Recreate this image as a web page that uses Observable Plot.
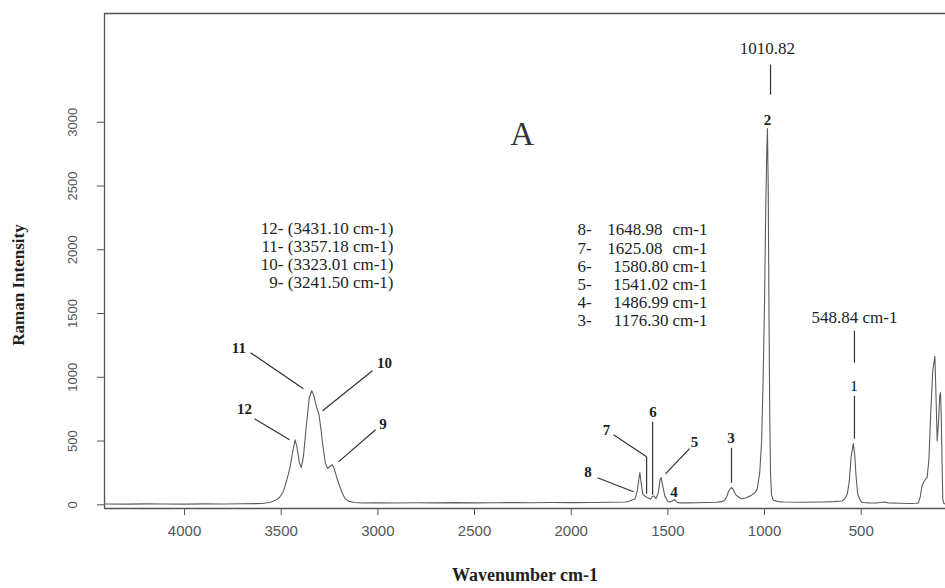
<!DOCTYPE html>
<html><head><meta charset="utf-8">
<script src="https://cdn.jsdelivr.net/npm/d3@7"></script>
<script src="https://cdn.jsdelivr.net/npm/@observablehq/plot@0.6"></script>
<style>body{margin:0;background:#fff} #chart svg{display:block}</style>
</head><body><div id="chart"></div>
<script>
// Raman spectrum (wavenumber cm-1, intensity)
const wavenumber = [4414,4300,4200,4100,4000,3900,3800,3700,3600,3560,3530,3510,3490,3470,3455,3440,3428,3418,3406,3396,3385,3370,3355,3342,3332,3318,3305,3295,3285,3272,3260,3248,3236,3225,3212,3200,3185,3170,3150,3120,3080,3000,2900,2800,2700,2600,2500,2400,2300,2200,2100,2000,1900,1800,1720,1700,1684,1670,1658,1650,1645,1638,1630,1620,1607,1590,1580,1573,1562,1550,1540,1535,1527,1516,1500,1490,1476,1466,1455,1440,1400,1350,1300,1250,1220,1205,1195,1185,1172,1162,1150,1130,1116,1095,1073,1050,1038,1025,1015,1007,1000,994,988,985,981,977,973,969,964,955,930,900,800,700,640,600,585,572,562,552,541,534,527,518,505,494,460,420,380,360,300,250,215,204,195,185,178,168,159,150,141,130,119,113,107,100,94,90,86,82,78,72,64];
const intensity  = [6,5,7,6,5,7,6,8,10,18,35,55,100,200,290,420,510,450,330,293,380,620,840,895,860,770,712,600,470,330,285,300,314,280,210,155,95,50,28,18,14,15,14,16,15,17,15,16,17,16,18,17,18,20,22,28,40,45,110,200,253,170,84,70,57,45,65,70,48,90,200,214,150,70,25,22,30,42,22,15,15,16,18,20,25,40,65,110,136,120,80,55,48,55,70,95,123,250,500,1000,1600,2300,2800,2950,2500,1500,700,250,80,35,25,22,20,22,25,30,45,84,180,380,480,400,230,84,35,18,15,14,22,15,12,10,12,15,60,150,175,200,215,350,700,1050,1165,850,500,650,850,880,700,350,40,10,5];

const xTicks = [4000,3500,3000,2500,2000,1500,1000,500];
const yTicks = [0,500,1000,1500,2000,2500,3000];

// numbered peak labels (position in data units)
const peakLabel = ["11","12","10","9","8","7","6","5","4","3","2"];
const peakLabelX = [3719,3690,2966,2973,1913,1817,1577,1362,1468,1173,985];
const peakLabelY = [1232,753,1110,636,259,589,730,494,102,522,3017];

// leader lines
const leadX1 = [3659,3638,3028,3012,1864,1781,1610,1579,1388,1171,969,535,535];
const leadY1 = [1193,675,1052,589,212,549,377,651,440,447,3453,1366,855];
const leadX2 = [3385,3457,3286,3204,1678,1610,1610,1579,1512,1171,969,535,535];
const leadY2 = [910,510,738,337,102,377,86,79,243,173,3217,1114,518];

// left list of peaks 12..9
const leftList = ["12- (3431.10 cm-1)","11- (3357.18 cm-1)","10- (3323.01 cm-1)","9- (3241.50 cm-1)"];
const leftListY = [2166,2025,1883,1742];
// right list of peaks 8..3
const rightPrefix = ["8-","7-","6-","5-","4-","3-"];
const rightValue = ["1648.98","1625.08","1580.80","1541.02","1486.99","1176.30"];
const rightValueX = [1528,1528,1497,1497,1497,1497];
const rightListY = [2158,2013,1868,1726,1585,1444];

const spectrum = wavenumber.map((w, k) => ({w, i: intensity[k]}));
const labels = peakLabel.map((t, k) => ({t, x: peakLabelX[k], y: peakLabelY[k]}));
const leaders = leadX1.map((x1, k) => ({x1, y1: leadY1[k], x2: leadX2[k], y2: leadY2[k]}));
const leftRows = leftList.map((t, k) => ({t, y: leftListY[k]}));
const rightRows = rightPrefix.map((p, k) => ({p, v: rightValue[k], vx: rightValueX[k], y: rightListY[k]}));

const xDomain = [4414, 64];
const yDomain = [-29, 3853];
const ink = "#1e1e1e";
const serif = "Liberation Serif";

const chart = Plot.plot({
  width: 945, height: 588,
  marginLeft: 104, marginRight: 0, marginTop: 13, marginBottom: 80,
  x: {domain: xDomain},
  y: {domain: yDomain},
  style: {background: "white", fontFamily: "Liberation Sans"},
  marks: [
    Plot.ruleY([yDomain[1]], {stroke: "#555", strokeWidth: 1.3}),
    Plot.ruleY([yDomain[0]], {stroke: "#555", strokeWidth: 1.3}),
    Plot.ruleX([xDomain[0]], {stroke: "#555", strokeWidth: 1.3}),
    Plot.axisX(xTicks, {anchor: "bottom", tickSize: 7, tickPadding: 10, fontSize: 15, color: "#555", label: null, tickFormat: d => String(d)}),
    Plot.axisY(yTicks, {anchor: "left", tickSize: 7, tickPadding: 21, tickRotate: -90, fontSize: 13, color: "#555", label: null, tickFormat: d => String(d)}),
    Plot.line(spectrum, {x: "w", y: "i", stroke: "#5c5c5c", strokeWidth: 1.1}),
    Plot.link(leaders, {x1: "x1", y1: "y1", x2: "x2", y2: "y2", stroke: "#333", strokeWidth: 1.2}),
    Plot.text(labels, {x: "x", y: "y", text: "t", fontFamily: serif, fontWeight: "bold", fontSize: 15, fill: ink}),
    Plot.text(["1"], {x: 537, y: 934, text: d => d, fontFamily: serif, fontSize: 15, fill: "black"}),
    Plot.text(["A"], {x: 2253, y: 2903, text: d => d, fontFamily: serif, fontSize: 33, fill: "#333"}),
    Plot.text(["1010.82"], {x: 985, y: 3578, text: d => d, fontFamily: serif, fontSize: 17, fill: ink}),
    Plot.text(["548.84 cm-1"], {x: 535, y: 1467, text: d => d, fontFamily: serif, fontSize: 17, fill: ink}),
    Plot.text(leftRows, {x: 2919, y: "y", text: "t", textAnchor: "end", fontFamily: serif, fontSize: 17, fill: ink}),
    Plot.text(rightRows, {x: 1967, y: "y", text: "p", textAnchor: "start", fontFamily: serif, fontSize: 17, fill: ink}),
    Plot.text(rightRows, {x: "vx", y: "y", text: "v", textAnchor: "end", fontFamily: serif, fontSize: 17, fill: ink}),
    Plot.text(rightRows, {x: 1295, y: "y", text: () => "cm-1", textAnchor: "end", fontFamily: serif, fontSize: 17, fill: ink}),
    Plot.text(["Raman Intensity"], {frameAnchor: "left", textAnchor: "middle", dx: -86, dy: 24, rotate: -90, fontFamily: serif, fontWeight: "bold", fontSize: 17, fill: ink}),
    Plot.text(["Wavenumber cm-1"], {frameAnchor: "bottom", textAnchor: "middle", dy: 72, fontFamily: serif, fontWeight: "bold", fontSize: 18, fill: ink})
  ]
});
document.getElementById("chart").appendChild(chart);
</script>
</body></html>
